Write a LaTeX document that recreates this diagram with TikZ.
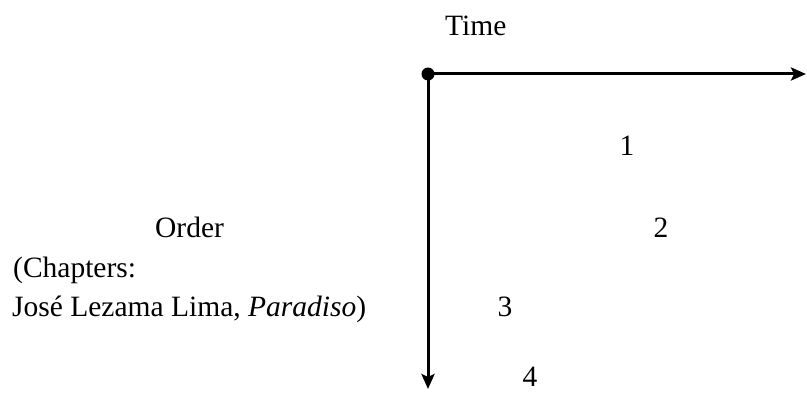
\documentclass[tikz,border=0pt]{standalone}
\usepackage{fontspec}
\setmainfont{Liberation Serif}
\usetikzlibrary{arrows.meta}
\begin{document}
\begin{tikzpicture}[x=1pt,y=-1pt,
  lbl/.style={inner sep=0pt,font=\fontsize{29.5}{36}\selectfont},
  axis/.style={line width=3pt,-{Stealth[length=15pt,width=13pt,inset=3pt]}}]
\useasboundingbox (0,0) rectangle (807,396);
\coordinate (o) at (428,74);
\coordinate (xend) at (806,74);
\coordinate (yend) at (428,389);
\draw[axis] (o) -- (xend);
\draw[axis] (o) -- (yend);
\fill (o) circle (6.5pt);
\node[lbl,anchor=base west] (time) at (445,36) {Time};
\node[lbl,anchor=base west] (order) at (155,237) {Order};
\node[lbl,anchor=base west] (chap) at (13,277) {(Chapters:};
\node[lbl,anchor=base west] (jose) at (12,316) {José Lezama Lima, \textit{Paradiso})};
\node[lbl,anchor=base] (n1) at (627,156) {1};
\node[lbl,anchor=base] (n2) at (661,237) {2};
\node[lbl,anchor=base] (n3) at (505,316) {3};
\node[lbl,anchor=base] (n4) at (530,386) {4};
\end{tikzpicture}
\end{document}
